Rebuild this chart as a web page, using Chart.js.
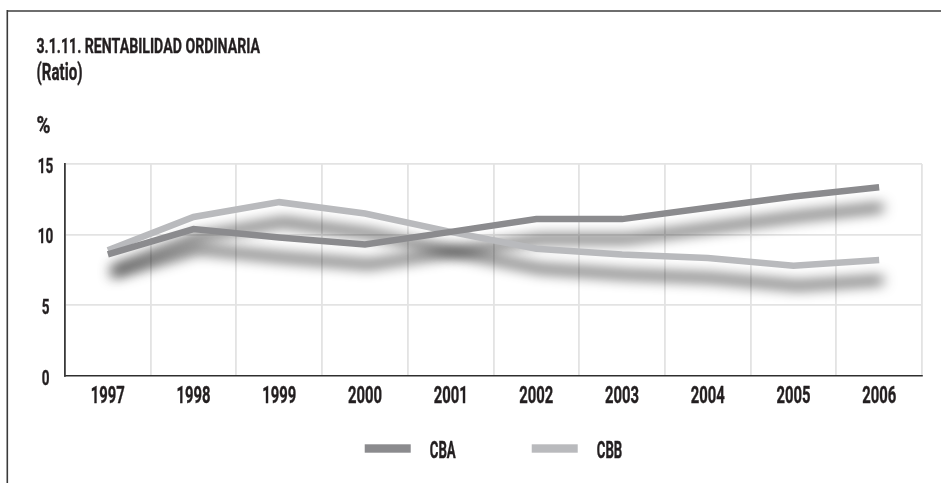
<!DOCTYPE html>
<html lang="es">
<head>
<meta charset="utf-8">
<title>Rentabilidad ordinaria</title>
<script src="https://cdn.jsdelivr.net/npm/chart.js@4.4.1/dist/chart.umd.min.js"></script>
<style>
  html, body { margin: 0; padding: 0; background: #fff; }
  canvas { display: block; }
</style>
</head>
<body>
<canvas id="chart" width="941" height="483"></canvas>
<script>
// Series (ratio, %)
const years = ['1997', '1998', '1999', '2000', '2001', '2002', '2003', '2004', '2005', '2006'];
const cba = [8.6, 10.4, 9.8, 9.3, 10.2, 11.1, 11.1, 11.9, 12.7, 13.35];
const cbb = [8.9, 11.25, 12.3, 11.5, 10.2, 9.0, 8.6, 8.35, 7.8, 8.2];
const yTicks = [0, 5, 10, 15];
const seriesNames = ['CBA', 'CBB'];
const seriesColors = ['#8b8b8e', '#b9babd'];

const titleText = '3.1.11. RENTABILIDAD ORDINARIA';
const subtitleText = '(Ratio)';
const unitText = '%';

const FONT = 'Roboto, "Liberation Sans", "DejaVu Sans Condensed", sans-serif';
const INK = '#231f20';

function measure(ctx, text, size) {
    ctx.save();
    ctx.font = `bold ${size}px ${FONT}`;
    const w = ctx.measureText(text).width;
    ctx.restore();
    return w;
}

// squeeze factor so that `sample` comes out `width` px wide
function squeeze(ctx, sample, size, width) {
    return width / measure(ctx, sample, size);
}

// condensed text: draw with a horizontal squeeze, thin outline for extra weight
function narrowText(ctx, text, x, y, size, sx, align) {
    ctx.save();
    ctx.font = `bold ${size}px ${FONT}`;
    ctx.fillStyle = INK;
    ctx.strokeStyle = INK;
    ctx.lineWidth = 0.4;
    ctx.lineJoin = 'round';
    ctx.textBaseline = 'alphabetic';
    ctx.textAlign = align || 'left';
    ctx.translate(x, y);
    ctx.scale(sx, 1);
    ctx.fillText(text, 0, 0);
    ctx.strokeText(text, 0, 0);
    ctx.restore();
}

// frame lines on the top and left of the panel
const framePlugin = {
    id: 'frame',
    beforeDraw(chart) {
        const ctx = chart.ctx;
        ctx.save();
        ctx.fillStyle = '#fff';
        ctx.fillRect(0, 0, chart.width, chart.height);
        ctx.fillStyle = '#6e6e6e';
        ctx.fillRect(7, 10, chart.width - 7, 2);
        ctx.fillStyle = '#3a3a3a';
        ctx.fillRect(6.5, 10, 1.6, chart.height - 10);
        ctx.restore();
    }
};

// soft drop shadow under both lines, drawn before either line
const shadowPlugin = {
    id: 'lineShadow',
    beforeDatasetsDraw(chart) {
        const ctx = chart.ctx;
        const far = 3000;
        chart.data.datasets.forEach((ds, i) => {
            const meta = chart.getDatasetMeta(i);
            ctx.save();
            ctx.shadowColor = 'rgba(0,0,0,0.8)';
            ctx.shadowBlur = 13;
            ctx.shadowOffsetX = far + 4;
            ctx.shadowOffsetY = 20;
            ctx.translate(-far, 0);
            meta.dataset.draw(ctx, chart.chartArea);
            ctx.restore();
        });
    }
};

// tick labels, headings and legend in a condensed cut
const labelPlugin = {
    id: 'narrowLabels',
    afterDraw(chart) {
        const ctx = chart.ctx;
        const xs = chart.scales.x;
        const ys = chart.scales.y;
        const area = chart.chartArea;

        const xSize = 23.5, xsx = squeeze(ctx, '2006', xSize, 34);
        xs.ticks.forEach((t, i) => {
            narrowText(ctx, xs.getLabelForValue(t.value), xs.getPixelForTick(i), 403.3, xSize, xsx, 'center');
        });
        const ySize = 20.5, ysx = squeeze(ctx, '15', ySize, 15.5);
        ys.ticks.forEach((t, i) => {
            narrowText(ctx, String(t.value), 45.5, ys.getPixelForTick(i) + 8.5, ySize, ysx, 'center');
        });

        narrowText(ctx, titleText, 36.5, 52.7, 20.3, squeeze(ctx, titleText, 20.3, 223.5));
        narrowText(ctx, subtitleText, 36.5, 80, 23.5, squeeze(ctx, subtitleText, 23.5, 46));
        narrowText(ctx, unitText, 36.5, 133, 23, squeeze(ctx, unitText, 23, 14));

        // legend, centred under the plot
        const boxW = 46, boxH = 8.4, gap = 19, spacing = 76, size = 23.5;
        const sx = squeeze(ctx, 'CBA', size, 26);
        const items = chart.data.datasets.map(ds => ({
            text: ds.label, color: ds.borderColor, w: boxW + gap + measure(ctx, ds.label, size) * sx
        }));
        const total = items.reduce((s, it) => s + it.w, 0) + spacing * (items.length - 1);
        let x = (area.left + area.right) / 2 - total / 2;
        items.forEach(it => {
            ctx.fillStyle = it.color;
            ctx.fillRect(x, 444.3, boxW, boxH);
            narrowText(ctx, it.text, x + boxW + gap, 458.3, size, sx);
            x += it.w + spacing;
        });
    }
};

const datasets = [cba, cbb].map((values, i) => ({
    label: seriesNames[i],
    data: values,
    borderColor: seriesColors[i],
    backgroundColor: seriesColors[i],
    borderWidth: 6.5,
    borderCapStyle: 'butt',
    borderJoinStyle: 'miter',
    pointRadius: 0,
    tension: 0,
    fill: false
}));

new Chart(document.getElementById('chart'), {
    type: 'line',
    data: { labels: years, datasets: datasets },
    options: {
        responsive: false,
        devicePixelRatio: 1,
        animation: false,
        layout: { padding: { top: 164, right: 19, left: 0, bottom: 0 } },
        plugins: {
            legend: { display: false },
            tooltip: { enabled: false }
        },
        scales: {
            x: {
                offset: true,
                grid: {
                    offset: true,
                    drawTicks: false,
                    lineWidth: 1.8,
                    color: c => c.index === 0 ? 'rgba(0,0,0,0)' : '#e3e3e3'
                },
                border: { color: '#2e2e2e', width: 1.6 },
                ticks: { display: false },
                afterFit: s => { s.height = 107; }
            },
            y: {
                min: 0,
                max: 15,
                grid: {
                    drawTicks: false,
                    lineWidth: 1.8,
                    color: c => c.index === 0 ? 'rgba(0,0,0,0)' : '#e3e3e3'
                },
                border: { color: '#3a3a3a', width: 1.8 },
                ticks: { display: false },
                afterBuildTicks: s => { s.ticks = yTicks.map(v => ({ value: v })); },
                afterFit: s => { s.width = 65; }
            }
        }
    },
    plugins: [framePlugin, shadowPlugin, labelPlugin]
});
</script>
</body>
</html>
